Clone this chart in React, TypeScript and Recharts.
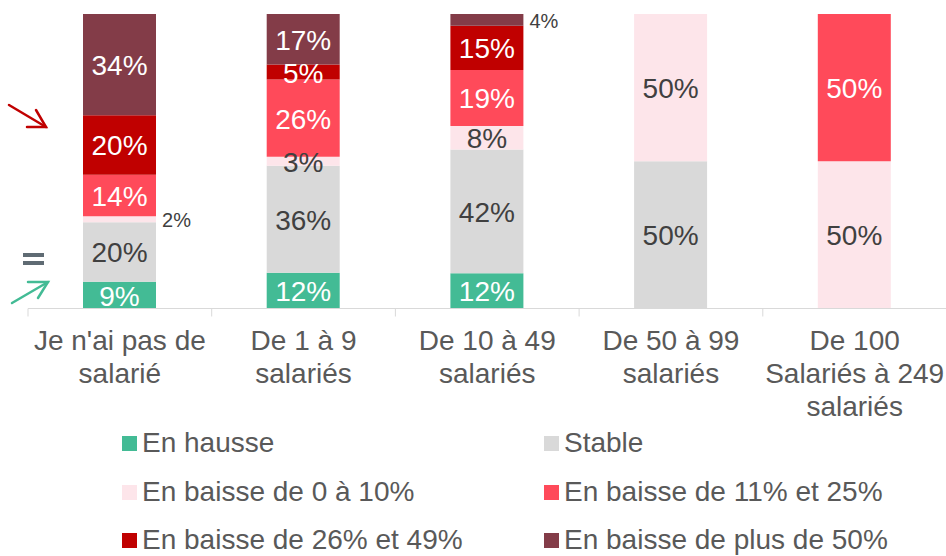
import { BarChart, Bar, XAxis, YAxis, LabelList } from 'recharts';

const CATEGORIES = [
  "Je n'ai pas de\nsalarié",
  'De 1 à 9\nsalariés',
  'De 10 à 49\nsalariés',
  'De 50 à 99\nsalariés',
  'De 100\nSalariés à 249\nsalariés',
];

const SERIES_NAMES = [
  'En hausse',
  'Stable',
  'En baisse de 0 à 10%',
  'En baisse de 11% et 25%',
  'En baisse de 26% et 49%',
  'En baisse de plus de 50%',
];

const HAUSSE = [9, 12, 12, 0, 0];
const STABLE = [20, 36, 42, 50, 0];
const BAISSE_0_10 = [2, 3, 8, 50, 50];
const BAISSE_11_25 = [14, 26, 19, 0, 50];
const BAISSE_26_49 = [20, 5, 15, 0, 0];
const BAISSE_50 = [34, 17, 4, 0, 0];

const KEYS = ['hausse', 'stable', 'b0_10', 'b11_25', 'b26_49', 'b50'];
const VALUES = [HAUSSE, STABLE, BAISSE_0_10, BAISSE_11_25, BAISSE_26_49, BAISSE_50];
const COLORS = ['#43bb95', '#d9d9d9', '#fde5ea', '#ff4a5a', '#c00000', '#833c48'];
const LABEL_COLORS = ['#ffffff', '#404040', '#404040', '#ffffff', '#ffffff', '#ffffff'];
// labels drawn beside the bar (index of category) because the segment is too thin
const OUTSIDE: Record<string, number[]> = { b0_10: [0], b50: [2] };

const data = CATEGORIES.map((name, i) => {
  const row: Record<string, string | number> = { name };
  KEYS.forEach((k, s) => (row[k] = VALUES[s][i]));
  return row;
});

const W = 946;
const H = 556;
const LEFT = 28;
const PLOT_W = W - LEFT + 0.5;
const FONT = '"Liberation Sans", Arial, sans-serif';

const makeLabel = (key: string, color: string) => (props: any) => {
  const x = Number(props.x);
  const y = Number(props.y);
  const width = Number(props.width);
  const height = Number(props.height);
  const { value, index } = props;
  if (!value) return null;
  if ((OUTSIDE[key] || []).includes(index)) {
    return (
      <text x={x + width + 6} y={y + height / 2 + 1} dominantBaseline="central" fontSize={20} fill="#404040" fontFamily={FONT}>
        {value}%
      </text>
    );
  }
  return (
    <text x={x + width / 2} y={y + height / 2 + 1} textAnchor="middle" dominantBaseline="central" fontSize={28} fill={color} fontFamily={FONT}>
      {value}%
    </text>
  );
};

const CategoryTick = (props: any) => {
  const { x, y, payload } = props;
  const lines = String(payload.value).split('\n');
  const half = PLOT_W / CATEGORIES.length / 2;
  return (
    <g>
      <line x1={x - half} x2={x - half} y1={y} y2={y + 8} stroke="#d9d9d9" />
      <text x={x} y={y} textAnchor="middle" fontSize={28} fill="#595959" fontFamily={FONT}>
        {lines.map((l, i) => (
          <tspan key={i} x={x} dy={i === 0 ? 41 : 33}>
            {l}
          </tspan>
        ))}
      </text>
    </g>
  );
};

const LEGEND_POS = [
  [122, 443], [544, 443],
  [122, 492], [544, 492],
  [122, 540], [544, 540],
];

export default function App() {
  return (
    <div style={{ position: 'absolute', left: 0, top: 0, width: W, height: H, background: '#fff', fontFamily: FONT, overflow: 'hidden' }}>
      <BarChart
        width={W}
        height={H}
        data={data}
        stackOffset="expand"
        margin={{ top: 14, right: -0.5, left: LEFT, bottom: 0 }}
      >
        <YAxis hide domain={[0, 1]} />
        <XAxis
          dataKey="name"
          height={H - 14 - 294.5}
          interval={0}
          tickSize={0}
          tickMargin={0}
          tickLine={false}
          axisLine={{ stroke: '#d9d9d9' }}
          tick={<CategoryTick />}
        />
        {KEYS.map((k, s) => (
          <Bar key={k} dataKey={k} name={SERIES_NAMES[s]} stackId="a" fill={COLORS[s]} barSize={73} isAnimationActive={false}>
            <LabelList dataKey={k} content={makeLabel(k, LABEL_COLORS[s])} />
          </Bar>
        ))}
      </BarChart>

      <svg width={60} height={320} style={{ position: 'absolute', left: 0, top: 0 }}>
        <g stroke="#c00000" strokeWidth={2.5} fill="none" strokeLinecap="round">
          <line x1={9} y1={105} x2={46} y2={127} />
          <polyline points="27,127 46,127 36,110" />
        </g>
        <g fill="#5f6b73">
          <rect x={23} y={253} width={21} height={4} />
          <rect x={23} y={261} width={21} height={4} />
        </g>
        <g stroke="#43bb95" strokeWidth={2.5} fill="none" strokeLinecap="round">
          <line x1={12} y1={303} x2={48} y2={282} />
          <polyline points="28,282 48,282 38,298" />
        </g>
      </svg>

      {SERIES_NAMES.map((n, s) => (
        <div
          key={n}
          style={{
            position: 'absolute',
            left: LEGEND_POS[s][0],
            top: LEGEND_POS[s][1] - 13,
            height: 26,
            lineHeight: '26px',
            display: 'flex',
            alignItems: 'center',
            fontSize: 28,
            color: '#595959',
            whiteSpace: 'nowrap',
          }}
        >
          <span style={{ width: 15, height: 15, background: COLORS[s], marginRight: 5, display: 'inline-block', flexShrink: 0 }} />
          {n}
        </div>
      ))}
    </div>
  );
}
